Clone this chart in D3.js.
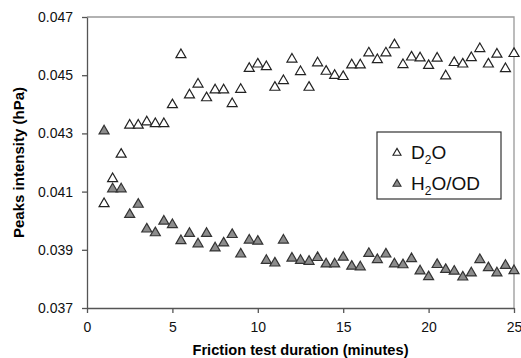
<!DOCTYPE html>
<html>
<head>
<meta charset="utf-8">
<script src="https://cdn.jsdelivr.net/npm/d3@7"></script>
<style>
  body { margin: 0; background: #fff; }
  svg { display: block; font-family: Arial, "Liberation Sans", sans-serif; }
  .axis path, .axis line { stroke: #555; stroke-width: 1.3; }
  .axis text { font-size: 14px; fill: #111; }
</style>
</head>
<body>
<script>
var margin = {top: 17, right: 7, bottom: 50, left: 87},
    width = 521 - margin.left - margin.right,
    height = 358 - margin.top - margin.bottom;

// friction test duration (minutes)
var minutes = [1, 1.5, 2, 2.5, 3, 3.5, 4, 4.5, 5, 5.5, 6, 6.5, 7, 7.5, 8, 8.5, 9, 9.5, 10,
    10.5, 11, 11.5, 12, 12.5, 13, 13.5, 14, 14.5, 15, 15.5, 16, 16.5, 17, 17.5, 18, 18.5,
    19, 19.5, 20, 20.5, 21, 21.5, 22, 22.5, 23, 23.5, 24, 24.5, 25];

// D2O peak intensity (hPa)
var d2o = [0.04062, 0.04148, 0.04232, 0.04332, 0.04332, 0.04343, 0.04337, 0.04337, 0.04402,
    0.04574, 0.04436, 0.04473, 0.04426, 0.04453, 0.04453, 0.04406, 0.04455, 0.04527, 0.04542,
    0.04533, 0.04462, 0.04485, 0.04559, 0.04516, 0.04462, 0.04546, 0.04517, 0.04503, 0.04499,
    0.04539, 0.04539, 0.04580, 0.04557, 0.04580, 0.04608, 0.04540, 0.04566, 0.04563, 0.04537,
    0.04562, 0.04501, 0.04547, 0.04542, 0.04564, 0.04595, 0.04542, 0.04576, 0.04526, 0.04578];

// H2O/OD peak intensity (hPa)
var h2o = [0.04312, 0.04113, 0.04113, 0.04025, 0.04060, 0.03975, 0.03962, 0.04002, 0.03990,
    0.03935, 0.03960, 0.03924, 0.03960, 0.03910, 0.03927, 0.03956, 0.03889, 0.03937, 0.03933,
    0.03867, 0.03858, 0.03937, 0.03875, 0.03867, 0.03864, 0.03877, 0.03855, 0.03855, 0.03878,
    0.03847, 0.03845, 0.03891, 0.03870, 0.03889, 0.03855, 0.03852, 0.03873, 0.03831, 0.03811,
    0.03853, 0.03836, 0.03830, 0.03810, 0.03824, 0.03870, 0.03842, 0.03824, 0.03850, 0.03832];

var xTicks = [0, 5, 10, 15, 20, 25];
var yTicks = [0.037, 0.039, 0.041, 0.043, 0.045, 0.047];

var x = d3.scaleLinear().domain([0, 25]).range([0, width]);
var y = d3.scaleLinear().domain([0.037, 0.047]).range([height, 0]);

var svg = d3.select("body").append("svg")
    .attr("width", width + margin.left + margin.right)
    .attr("height", height + margin.top + margin.bottom)
    .append("g")
    .attr("transform", "translate(" + margin.left + "," + margin.top + ")");

// top and right frame
svg.append("path")
    .attr("d", "M0,0H" + width + "V" + height)
    .attr("fill", "none")
    .attr("stroke", "#999")
    .attr("stroke-width", 1.3);

svg.append("g")
    .attr("class", "x axis")
    .attr("transform", "translate(0," + height + ")")
    .call(d3.axisBottom(x).tickValues(xTicks).tickSize(5).tickSizeOuter(0).tickPadding(9));

svg.append("g")
    .attr("class", "y axis")
    .call(d3.axisLeft(y).tickValues(yTicks).tickFormat(d3.format(".3f")).tickSize(5).tickSizeOuter(0).tickPadding(9));

svg.append("text")
    .attr("x", width / 2)
    .attr("y", height + 47)
    .attr("text-anchor", "middle")
    .attr("textLength", 216)
    .attr("lengthAdjust", "spacingAndGlyphs")
    .style("font-size", "15px")
    .style("font-weight", "bold")
    .text("Friction test duration (minutes)");

svg.append("text")
    .attr("transform", "rotate(-90)")
    .attr("x", -height / 2)
    .attr("y", -margin.left + 24)
    .attr("text-anchor", "middle")
    .attr("textLength", 151)
    .attr("lengthAdjust", "spacingAndGlyphs")
    .style("font-size", "14px")
    .style("font-weight", "bold")
    .text("Peaks intensity (hPa)");

var tri = "M0,-4.6L5,4L-5,4Z";
var triSmall = "M0,-3.6L4,3.2L-4,3.2Z";

var series = [
    {name: "D2O", values: d2o, fill: "#fff", stroke: "#222"},
    {name: "H2O/OD", values: h2o, fill: "#8c8c8c", stroke: "#333"}
];

series.forEach(function(s) {
    svg.append("g").selectAll("path")
        .data(s.values)
        .enter().append("path")
        .attr("d", tri)
        .attr("transform", function(d, i) { return "translate(" + x(minutes[i]) + "," + y(d) + ")"; })
        .attr("fill", s.fill)
        .attr("stroke", s.stroke)
        .attr("stroke-width", 1.2);
});

// legend
var legend = svg.append("g")
    .attr("transform", "translate(" + (377 - margin.left) + "," + (132 - margin.top) + ")");

legend.append("rect")
    .attr("width", 124)
    .attr("height", 67)
    .attr("fill", "#fff")
    .attr("stroke", "#333")
    .attr("stroke-width", 1.2);

var labels = [["D", "2", "O"], ["H", "2", "O/OD"]];

series.forEach(function(s, i) {
    var row = legend.append("g").attr("transform", "translate(0," + (20 + i * 31) + ")");
    row.append("path")
        .attr("d", triSmall)
        .attr("transform", "translate(20,0)")
        .attr("fill", s.fill)
        .attr("stroke", s.stroke)
        .attr("stroke-width", 1.1);
    var t = row.append("text")
        .attr("x", 34)
        .attr("y", 7)
        .style("font-size", "19px")
        .style("fill", "#111");
    t.append("tspan").text(labels[i][0]);
    t.append("tspan").attr("dy", 5).style("font-size", "12px").text(labels[i][1]);
    t.append("tspan").attr("dy", -5).text(labels[i][2]);
});
</script>
</body>
</html>
